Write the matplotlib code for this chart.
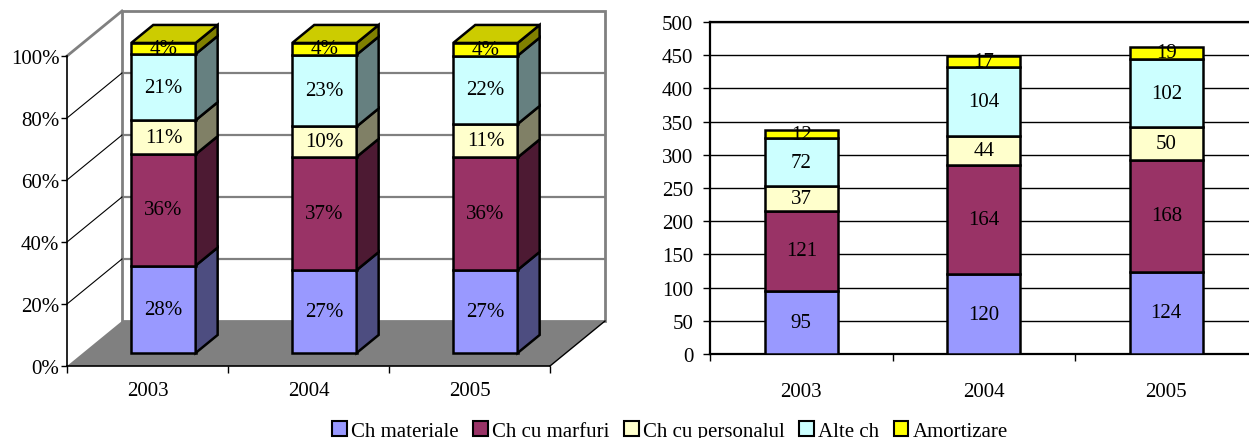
import numpy as np
import matplotlib
matplotlib.use("Agg")
import matplotlib.pyplot as plt
from matplotlib.patches import Polygon, Patch

plt.rcParams["font.family"] = ["Liberation Serif", "DejaVu Serif"]
plt.rcParams["font.size"] = 15

# ---- data -------------------------------------------------------------
years = ["2003", "2004", "2005"]
series = ["Ch materiale", "Ch cu marfuri", "Ch cu personalul", "Alte ch", "Amortizare"]
ch_materiale = [95, 120, 124]
ch_marfuri = [121, 164, 168]
ch_personal = [37, 44, 50]
alte_ch = [72, 104, 102]
amortizare = [12, 17, 19]

values = np.array([ch_materiale, ch_marfuri, ch_personal, alte_ch, amortizare], dtype=float)

# ---- styling ----------------------------------------------------------
front_colors = ["#9999FF", "#993366", "#FFFFCC", "#CCFFFF", "#FFFF00"]
side_colors = ["#4D4D80", "#4D1A33", "#808066", "#668080", "#808000"]
top_color = "#CCCC00"
wall_gray = "#808080"

W, H = 1249, 439
fig = plt.figure(figsize=(W / 100, H / 100), dpi=100)


def px_box(x0, x1, y_top, y_bottom):
    return [x0 / W, (H - y_bottom) / H, (x1 - x0) / W, (y_bottom - y_top) / H]


# ======================================================================
# Left: 100% stacked 3D columns (oblique projection)
# ======================================================================
ax1 = fig.add_axes(px_box(67, 550, 57, 367))
ax1.set_xlim(0, 3)
ax1.set_ylim(0, 100)

DX, DY = 55 / 161.0, 45 / 3.1      # depth vector in data units


def proj(x, y, z):
    return (x + z * DX, y + z * DY)


def face(pts, fc, ec="black", lw=1.8, z=3):
    poly = Polygon([proj(*p) for p in pts], closed=True, facecolor=fc,
                   edgecolor=ec, linewidth=lw, joinstyle="miter",
                   clip_on=False, zorder=z)
    ax1.add_patch(poly)


# back wall
face([(0, 0, 1), (3, 0, 1), (3, 100, 1), (0, 100, 1)], "white",
     ec=wall_gray, lw=2.0, z=0.5)
for g in [20, 40, 60, 80]:
    (xa, ya), (xb, yb) = proj(0, g, 1), proj(3, g, 1)
    ax1.plot([xa, xb], [ya, yb], color=wall_gray, lw=1.6, clip_on=False, zorder=0.6)
    # side-wall gridlines
    (xc, yc), (xd, yd) = proj(0, g, 0), proj(0, g, 1)
    ax1.plot([xc, xd], [yc, yd], color="black", lw=0.8, clip_on=False, zorder=0.6)
(xc, yc), (xd, yd) = proj(0, 100, 0), proj(0, 100, 1)
ax1.plot([xc, xd], [yc, yd], color=wall_gray, lw=2.0, clip_on=False, zorder=0.6)

# floor
face([(0, 0, 0), (3, 0, 0), (3, 0, 1), (0, 0, 1)], wall_gray, ec="none", lw=0, z=0.8)
(xa, ya), (xb, yb) = proj(3, 0, 0), proj(3, 0, 1)
ax1.plot([xa, xb], [ya, yb], color="black", lw=1.0, clip_on=False, zorder=0.9)

# columns
totals = values.sum(axis=0)
pct = values / totals * 100
bw, z0, z1 = 0.4, 0.29, 0.69
for i in range(len(years)):
    x0 = i + 0.5 - bw / 2
    x1 = i + 0.5 + bw / 2
    bottom = 0.0
    for s in range(len(series)):
        top = bottom + pct[s, i]
        face([(x0, bottom, z0), (x1, bottom, z0), (x1, top, z0), (x0, top, z0)],
             front_colors[s])
        face([(x1, bottom, z0), (x1, bottom, z1), (x1, top, z1), (x1, top, z0)],
             side_colors[s])
        tx, ty = proj(i + 0.5, (bottom + top) / 2, z0)
        ax1.text(tx, ty, f"{round(pct[s, i])}%", ha="center", va="center",
                 fontsize=15, zorder=6, clip_on=False)
        bottom = top
    face([(x0, bottom, z0), (x1, bottom, z0), (x1, bottom, z1), (x0, bottom, z1)],
         top_color)

for sp in ["top", "right"]:
    ax1.spines[sp].set_visible(False)
for sp in ["left", "bottom"]:
    ax1.spines[sp].set_linewidth(1.2)
    ax1.spines[sp].set_zorder(1)
ax1.set_yticks(np.arange(0, 101, 20))
ax1.set_yticklabels([f"{v}%" for v in range(0, 101, 20)])
ax1.tick_params(axis="y", direction="out", length=4, width=1, pad=1.5)
ax1.set_xticks([0, 1, 2, 3])
ax1.set_xticklabels([])
ax1.set_xticks([0.5, 1.5, 2.5], minor=True)
ax1.set_xticklabels(years, minor=True)
ax1.tick_params(axis="x", which="major", direction="out", length=5, width=1)
ax1.tick_params(axis="x", which="minor", length=0, pad=11)
ax1.patch.set_alpha(0)

# ======================================================================
# Right: stacked columns (absolute values)
# ======================================================================
ax2 = fig.add_axes(px_box(710, 1257.5, 23, 355))
x = np.arange(len(years))
bottom = np.zeros(len(years))
for s in range(len(series)):
    ax2.bar(x, values[s], 0.4, bottom=bottom, color=front_colors[s],
            edgecolor="black", linewidth=1.8, zorder=3)
    for i in range(len(years)):
        ax2.text(x[i], bottom[i] + values[s, i] / 2, f"{int(values[s, i])}",
                 ha="center", va="center", fontsize=15, zorder=4)
    bottom += values[s]

ax2.set_xlim(-0.5, 2.5)
ax2.set_ylim(0, 500)
ax2.set_yticks(np.arange(0, 501, 50))
ax2.yaxis.grid(True, color="black", lw=1.0, zorder=0)
ax2.set_axisbelow(True)
ax2.tick_params(axis="y", direction="out", length=5, width=1, pad=7)
ax2.set_xticks([-0.5, 0.5, 1.5, 2.5])
ax2.set_xticklabels([])
ax2.set_xticks(x, minor=True)
ax2.set_xticklabels(years, minor=True)
ax2.tick_params(axis="x", which="major", direction="out", length=5, width=1)
ax2.tick_params(axis="x", which="minor", length=0, pad=20)
for sp in ax2.spines.values():
    sp.set_linewidth(1.6)

# ---- legend -----------------------------------------------------------
handles = [Patch(facecolor=c, edgecolor="black", linewidth=1.5) for c in front_colors]
fig.legend(handles, series, loc="center", bbox_to_anchor=(670 / W, (H - 432) / H),
           ncol=5, frameon=False, fontsize=15, handlelength=0.7, handleheight=0.7,
           handletextpad=0.2, columnspacing=0.7, borderaxespad=0, borderpad=0)

fig.savefig("out.png", dpi=100)
